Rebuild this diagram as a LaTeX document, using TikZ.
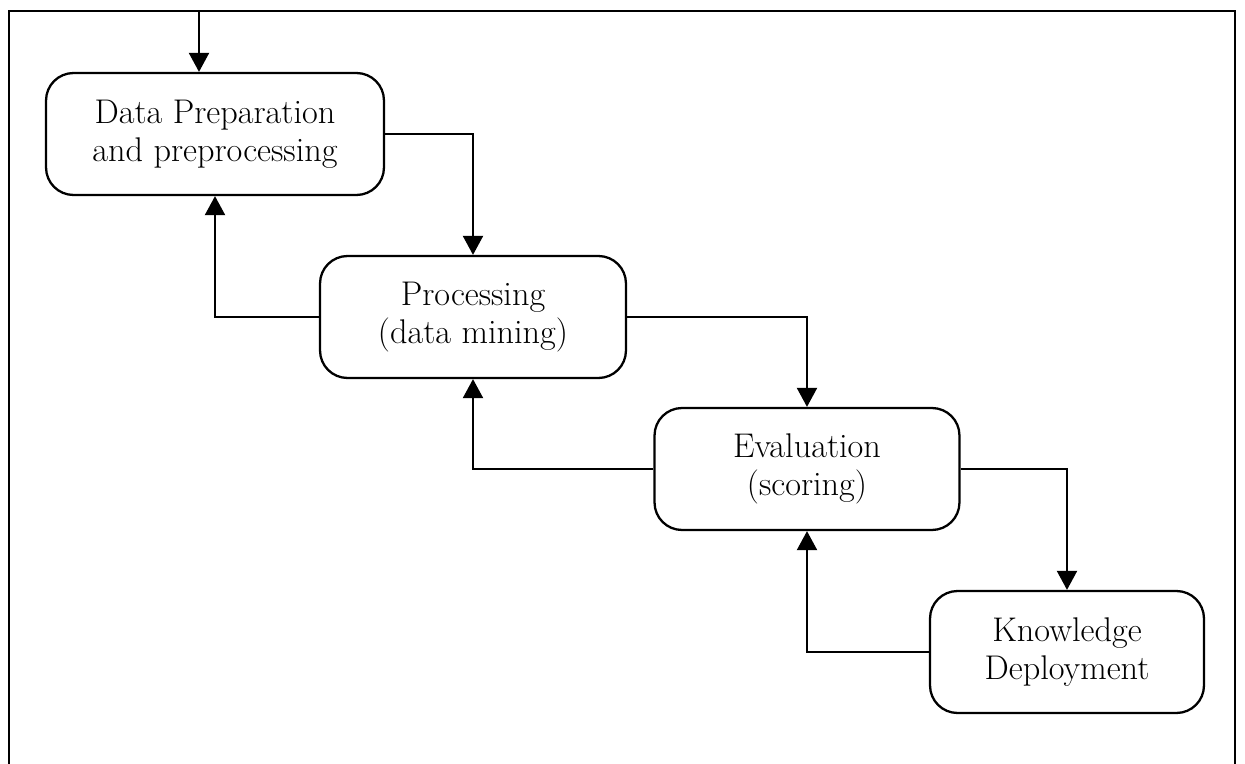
\documentclass[tikz,border=0pt]{standalone}
\usepackage{tikz}
\usetikzlibrary{arrows.meta}
\tikzset{
  Kasten/.style={draw,line width=1.3pt,rounded corners=.55cm,align=center,
    inner sep=0pt,minimum height=2.44cm,font=\fontsize{19.5}{21.5}\selectfont}, % Prozessschritte
  Pfeil/.style={line width=1.2pt,->} % Verbindungen
}
\begin{document}
\begin{tikzpicture}[x=.02cm,y=-.02cm,
>={Triangle[length=.38cm,width=.4cm]} % Voreinstellung fuer Pfeilspitzen
]
\useasboundingbox (0,0) rectangle (1245,764);

%Rahmen
\draw[line width=1.2pt] (9,764) -- (9,11) -- (1235,11) -- (1235,764);

%Schritte
\node[Kasten,minimum width=6.76cm] (DP) at (215,134) {Data Preparation\\and preprocessing};
\node[Kasten,minimum width=6.12cm] (PR) at (473,317) {Processing\\(data mining)};
\node[Kasten,minimum width=6.1cm] (EV) at (807,469) {Evaluation\\(scoring)};
\node[Kasten,minimum width=5.48cm] (KD) at (1067,652) {Knowledge\\Deployment};

\coordinate (Ein) at (199,11);

%Pfeile vorwaerts
\draw[Pfeil] (Ein) -- (Ein |- DP.north);
\draw[Pfeil] (DP.east) -| (PR.north);
\draw[Pfeil] (PR.east) -| (EV.north);
\draw[Pfeil] (EV.east) -| (KD.north);

%Pfeile zurueck
\draw[Pfeil] (PR.west) -| (DP.south);
\draw[Pfeil] (EV.west) -| (PR.south);
\draw[Pfeil] (KD.west) -| (EV.south);

\end{tikzpicture}
\end{document}
